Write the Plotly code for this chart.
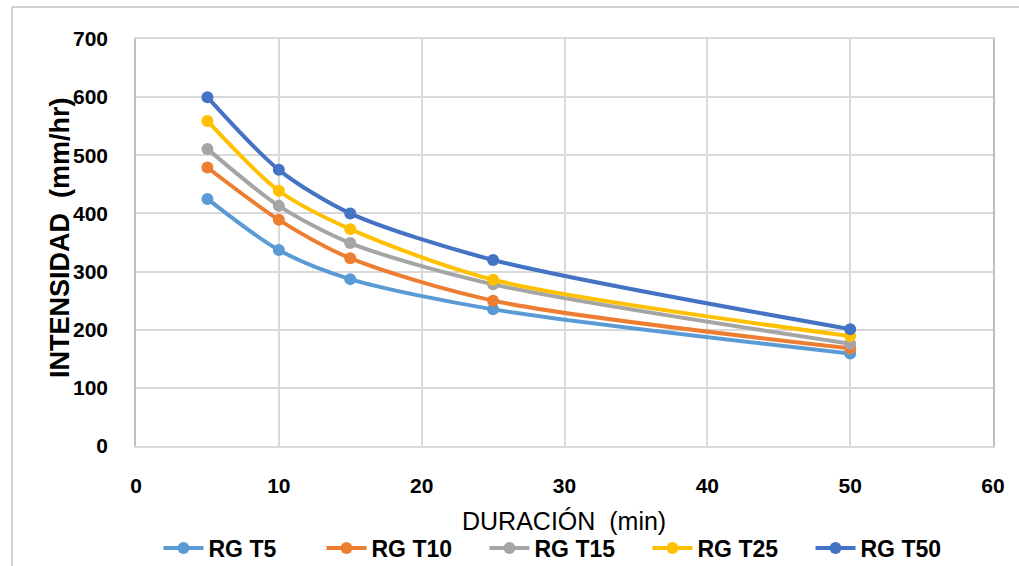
import plotly.graph_objects as go

# Duración (min) y intensidades (mm/hr) por período de retorno
duracion = [5, 10, 15, 25, 50]
rg_t5 = [425, 337, 287, 235, 159]
rg_t10 = [479, 389, 323, 250, 168]
rg_t15 = [511, 413, 349, 278, 176]
rg_t25 = [559, 439, 373, 286, 189]
rg_t50 = [600, 475, 400, 320, 201]

series_names = ["RG T5", "RG T10", "RG T15", "RG T25", "RG T50"]
series_values = [rg_t5, rg_t10, rg_t15, rg_t25, rg_t50]
series_colors = ["#5B9BD5", "#ED7D31", "#A5A5A5", "#FFC000", "#4472C4"]

x_ticks = [0, 10, 20, 30, 40, 50, 60]
y_ticks = [0, 100, 200, 300, 400, 500, 600, 700]

FONT = "Liberation Sans, Arial, sans-serif"

fig = go.Figure()
for name, vals, color in zip(series_names, series_values, series_colors):
    fig.add_trace(go.Scatter(
        x=duracion, y=vals, name=name, mode="lines+markers",
        line=dict(color=color, width=4, shape="spline", smoothing=0.8),
        marker=dict(color=color, size=12),
    ))

W, H = 1019, 566
L, R, T, B = 136, 26, 39, 120
pw, ph = W - L - R, H - T - B


def px_x(p):
    return (p - L) / pw


def px_y(p):
    return (H - B - p) / ph


grid = "#D9D9D9"
fig.update_layout(
    width=W, height=H,
    margin=dict(l=L, r=R, t=T, b=B, autoexpand=False),
    paper_bgcolor="white", plot_bgcolor="white",
    showlegend=True,
    legend=dict(
        orientation="h", x=px_x(566), xanchor="center",
        y=px_y(548), yanchor="middle",
        entrywidth=108, entrywidthmode="pixels",
        font=dict(family=FONT, size=23, color="#000000", weight=700),
        itemwidth=40,
    ),
    xaxis=dict(
        range=[0, 60], tickvals=x_ticks, showgrid=True, gridcolor=grid, gridwidth=1.5,
        showline=True, linecolor=grid, linewidth=1.5, mirror=True, zeroline=False,
        ticks="", ticklabelstandoff=20,
        tickfont=dict(family=FONT, size=21, color="#000000", weight=700),
    ),
    yaxis=dict(
        range=[0, 700], tickvals=y_ticks, showgrid=True, gridcolor=grid, gridwidth=1.5,
        showline=True, linecolor="#BFBFBF", linewidth=1.5, mirror=True, zeroline=False,
        ticks="", ticklabelstandoff=22,
        tickfont=dict(family=FONT, size=21, color="#000000", weight=700),
    ),
    annotations=[
        dict(text="DURACIÓN\u00a0 (min)", xref="paper", yref="paper",
             x=px_x(564), y=px_y(521), xanchor="center", yanchor="middle",
             showarrow=False, font=dict(family=FONT, size=25, color="#000000")),
        dict(text="INTENSIDAD\u00a0 (mm/hr)", xref="paper", yref="paper",
             x=px_x(60), y=px_y(238), xanchor="center", yanchor="middle",
             textangle=-90, showarrow=False,
             font=dict(family=FONT, size=27, color="#000000", weight=700)),
    ],
    shapes=[
        dict(type="line", xref="paper", yref="paper", layer="below",
             x0=px_x(12), x1=px_x(12), y0=px_y(7), y1=px_y(H + 5),
             line=dict(color="#D0D0D0", width=2)),
        dict(type="line", xref="paper", yref="paper", layer="below",
             x0=px_x(12), x1=px_x(W + 5), y0=px_y(7), y1=px_y(7),
             line=dict(color="#D0D0D0", width=2)),
    ],
)

fig.write_html("out.html")
